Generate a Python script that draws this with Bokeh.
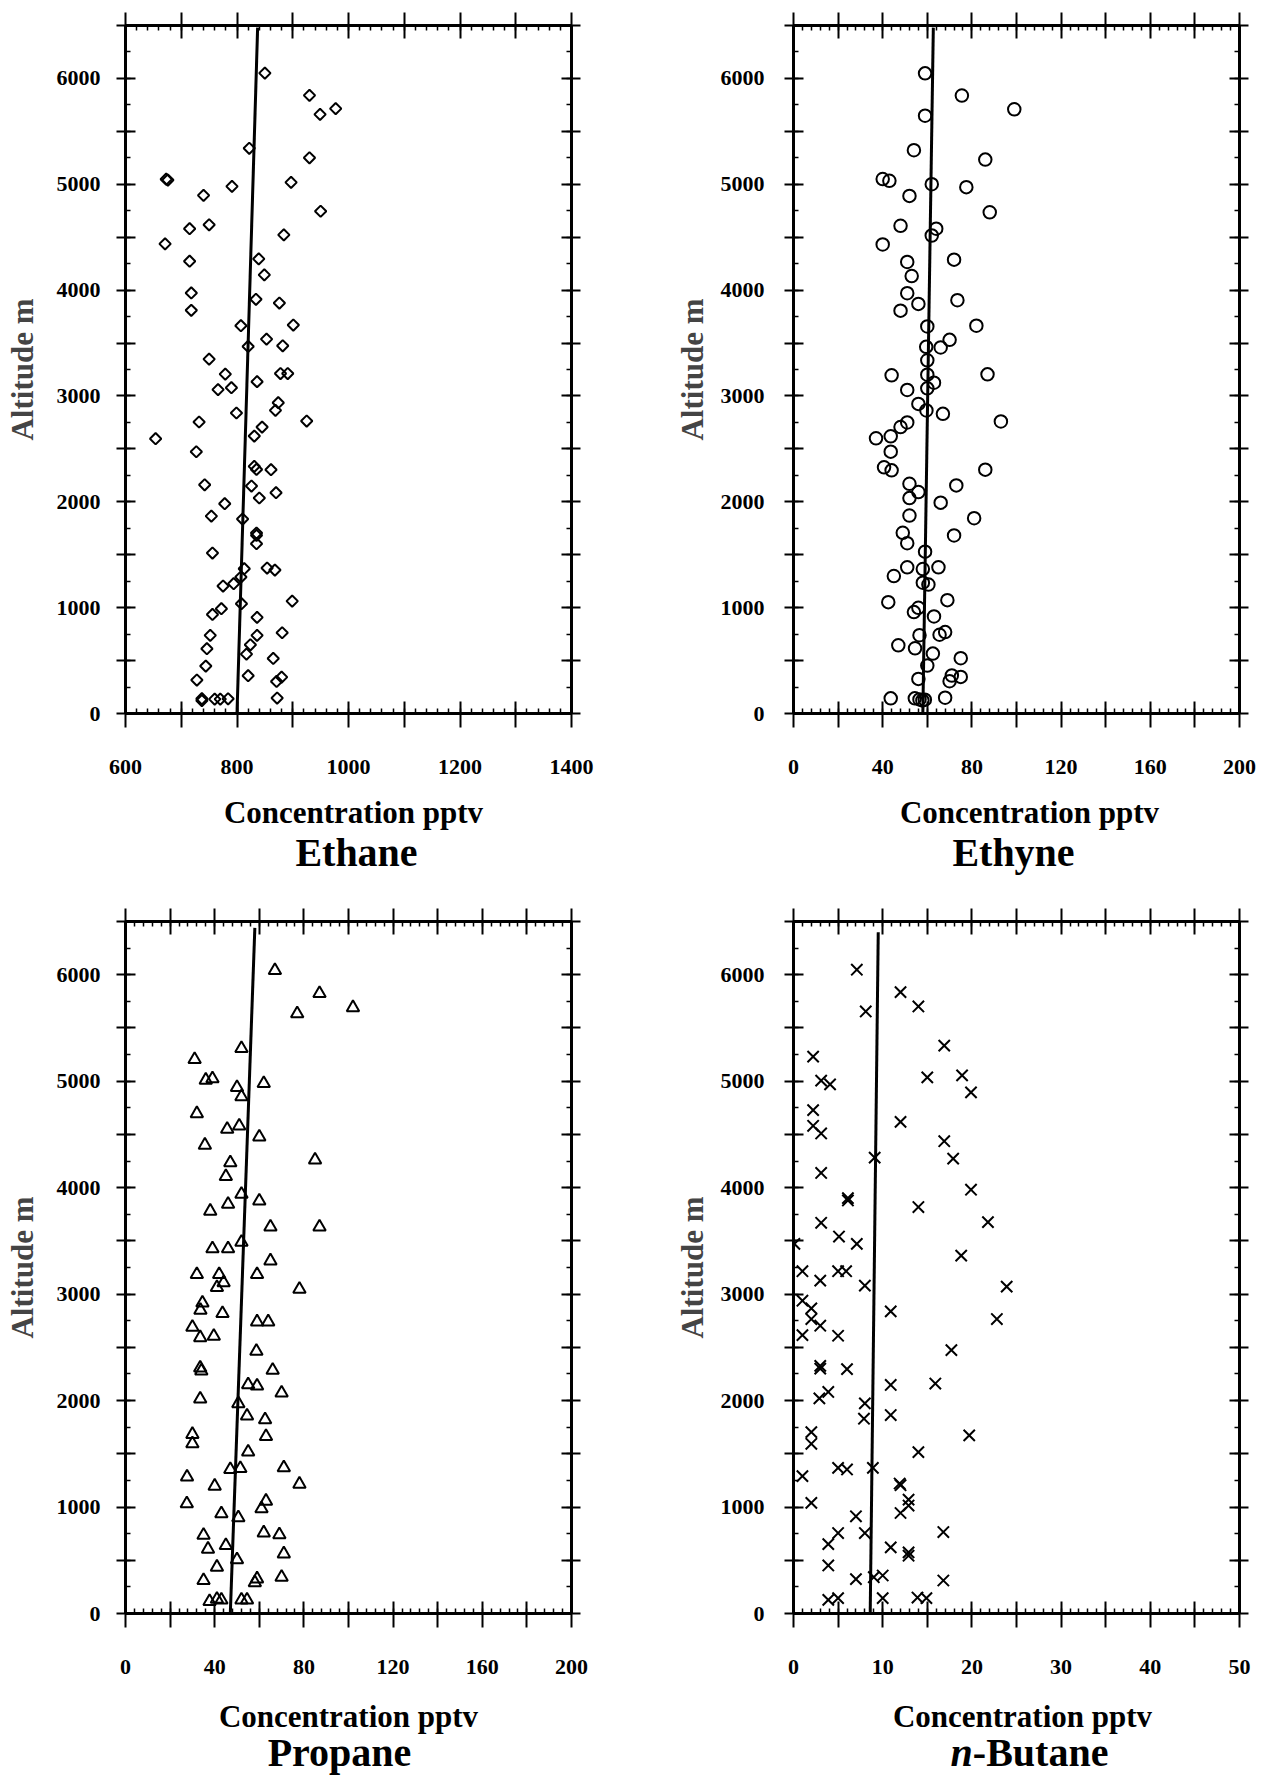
import numpy as np
from bokeh.plotting import figure
from bokeh.layouts import column, row
from bokeh.models import Range1d, LinearAxis, SingleIntervalTicker, CustomJSTickFormatter
from bokeh.core.properties import value
from bokeh.embed import file_html
from bokeh.resources import INLINE

# ---------------- data ----------------
ethane_x = [850, 930, 977, 949, 822, 930, 673, 676, 791, 897, 740, 950, 715, 750, 671, 884, 715, 839, 849,
            718, 834, 876, 718, 807, 901, 853, 820, 882, 750, 779, 878, 891, 836, 766, 790, 874, 869, 799,
            732, 925, 845, 654, 831, 727, 831, 835, 861, 742, 826, 870, 840, 778, 754, 810, 835, 835, 835,
            756, 813, 854, 868, 807, 794, 775, 899, 808, 772, 756, 836, 752, 836, 881, 746, 824, 817, 865,
            744, 820, 880, 871, 728, 737, 737, 760, 770, 784, 872]
ethane_y = [6050, 5840, 5715, 5660, 5340, 5250, 5048, 5040, 4980, 5018, 4895, 4745, 4580, 4617, 4437, 4522,
            4273, 4295, 4144, 3973, 3913, 3878, 3809, 3664, 3670, 3537, 3468, 3474, 3348, 3206, 3212, 3212,
            3135, 3060, 3078, 2936, 2864, 2839, 2754, 2763, 2706, 2596, 2621, 2473, 2335, 2306, 2303, 2161,
            2149, 2086, 2036, 1982, 1865, 1837, 1705, 1683, 1604, 1516, 1368, 1374, 1355, 1289, 1226, 1204,
            1062, 1037, 990, 936, 908, 738, 738, 763, 612, 649, 561, 520, 448, 357, 344, 303, 316, 140, 122,
            136, 136, 139, 146]
ethane_fit_x = [800, 837]
ethane_fit_y = [0, 6480]

ethyne_x = [59, 75.5, 99, 59, 54, 86, 40, 43, 62, 77.5, 52, 88, 48, 64, 62, 40, 72, 51, 53, 51, 73.5, 56, 48,
            60, 82, 70, 66, 59.5, 60, 44, 60, 87, 63, 60, 51, 56, 59.6, 67, 93, 51, 48, 37, 43.6, 43.6, 40.6,
            44, 86, 52, 73, 56, 52, 66, 52, 81, 49, 72, 51, 59, 51, 58, 65, 45, 58, 60.5, 42.5, 69, 56, 54,
            63, 56.5, 65.5, 68, 47, 54.5, 62.5, 75, 60, 56, 71, 70, 75, 43.6, 54.4, 56.5, 57.8, 58.9, 68]
ethyne_y = [6048, 5838, 5708, 5648, 5322, 5233, 5049, 5033, 5001, 4973, 4890, 4735, 4608, 4580, 4516, 4431,
            4288, 4266, 4133, 3971, 3905, 3870, 3806, 3657, 3664, 3530, 3458, 3464, 3337, 3195, 3201, 3204,
            3125, 3072, 3057, 2925, 2863, 2831, 2759, 2750, 2706, 2600, 2619, 2474, 2326, 2297, 2304, 2170,
            2155, 2092, 2035, 1992, 1870, 1845, 1707, 1682, 1609, 1529, 1381, 1365, 1381, 1299, 1236, 1218,
            1052, 1071, 999, 958, 917, 740, 744, 769, 644, 616, 566, 522, 453, 327, 359, 305, 346, 143, 143,
            133, 124, 130, 149]
ethyne_fit_x = [58, 62.7]
ethyne_fit_y = [0, 6480]

propane_x = [67, 87, 102, 77, 52, 31, 36, 39, 50, 62, 52, 32, 45.6, 51, 60, 35.6, 85, 47, 45, 52, 46, 60, 38,
             65, 87, 52, 39, 46, 65, 32, 42, 59, 44, 41, 78, 34.5, 33.6, 43.5, 59, 64, 30, 33.5, 39.6, 58.7,
             33.5, 34, 66, 55, 59, 70, 33.5, 50.6, 54.5, 62.6, 30, 30, 63, 55, 47, 51.5, 71, 27.6, 40, 78,
             27.5, 63, 61, 43, 50.6, 35, 62, 69, 37, 45, 71, 50, 41, 35, 59, 58, 70, 37.7, 41, 43, 52, 54.5]
propane_y = [6041, 5825, 5692, 5634, 5307, 5205, 5011, 5024, 4941, 4979, 4855, 4696, 4550, 4579, 4477, 4400,
             4260, 4235, 4105, 3939, 3844, 3876, 3780, 3631, 3631, 3488, 3427, 3427, 3313, 3185, 3185, 3185,
             3107, 3063, 3047, 2918, 2849, 2818, 2740, 2740, 2690, 2592, 2605, 2464, 2307, 2279, 2285, 2150,
             2138, 2072, 2016, 1972, 1856, 1821, 1683, 1595, 1664, 1517, 1354, 1363, 1370, 1282, 1197, 1216,
             1031, 1056, 984, 937, 900, 736, 758, 740, 605, 639, 561, 505, 436, 310, 326, 291, 341, 113, 135,
             128, 128, 128]
propane_fit_x = [47, 58]
propane_fit_y = [0, 6440]

butane_x = [7.1, 12, 14, 8.1, 16.9, 2.2, 3.1, 4.1, 15, 18.9, 19.9, 2.2, 2.2, 3.1, 12, 16.9, 17.9, 9.1, 3.1,
            19.9, 6.1, 6.1, 14, 21.8, 3.1, 5.1, 7.1, 0.1, 18.8, 1, 5, 5.9, 3, 8, 23.9, 1, 2, 2, 3, 10.9, 22.8,
            1, 5, 17.7, 3, 3, 6, 15.9, 10.9, 3.9, 2.9, 8, 7.9, 10.9, 2, 2, 19.7, 14, 5, 6, 8.9, 1, 11.9, 12,
            12.9, 12.9, 12, 2, 7, 5, 8, 16.8, 3.9, 10.9, 12.9, 12.9, 3.9, 7, 9, 10, 16.8, 3.9, 5, 10, 13.9,
            14.9]
butane_y = [6047, 5837, 5702, 5655, 5334, 5231, 5005, 4970, 5036, 5055, 4895, 4728, 4581, 4509, 4618, 4436,
            4273, 4282, 4138, 3981, 3902, 3880, 3818, 3676, 3670, 3541, 3472, 3472, 3362, 3215, 3215, 3215,
            3127, 3080, 3070, 2938, 2866, 2766, 2703, 2838, 2766, 2615, 2609, 2474, 2326, 2300, 2295, 2160,
            2147, 2081, 2021, 1974, 1830, 1864, 1704, 1594, 1673, 1516, 1368, 1353, 1368, 1290, 1221, 1205,
            1070, 1014, 944, 1039, 913, 756, 756, 765, 652, 621, 574, 543, 451, 323, 341, 357, 310, 128, 144,
            144, 150, 144]
butane_fit_x = [8.6, 9.5]
butane_fit_y = [0, 6400]

y_label = "Altitude m"
x_label = "Concentration pptv"
titles = ["Ethane", "Ethyne", "Propane", ("n", "-Butane")]

FONT = "Liberation Serif"
Y_MAX = 6500


def blank_fmt():
    return CustomJSTickFormatter(code="return ''")


def style(ax, ticker, tin, tout, min_in):
    ax.ticker = ticker
    ax.axis_line_width = 3
    ax.axis_line_color = "black"
    ax.major_tick_line_width = 2
    ax.minor_tick_line_width = 1.5
    ax.major_tick_in = tin
    ax.major_tick_out = tout
    ax.minor_tick_in = min_in
    ax.minor_tick_out = 0
    ax.major_label_text_font = FONT
    ax.major_label_text_font_style = "bold"
    ax.major_label_text_font_size = "22px"
    ax.major_label_text_color = "black"


def panel(xs, ys, fx, fy, marker, msize, angle, x0, x1, xint, width, height,
          bl, br, bt, bb, ytick_standoff, ylab_standoff):
    p = figure(width=width, height=height, x_range=Range1d(x0, x1), y_range=Range1d(0, Y_MAX),
               output_backend="svg", toolbar_location=None, tools="",
               min_border_left=bl, min_border_right=br, min_border_top=bt, min_border_bottom=bb)
    p.outline_line_color = None
    p.grid.visible = False
    p.background_fill_color = "white"
    p.border_fill_color = "white"

    xt = lambda: SingleIntervalTicker(interval=xint, num_minor_ticks=5)
    yt = lambda: SingleIntervalTicker(interval=500, num_minor_ticks=2)

    xa = p.xaxis[0]
    style(xa, xt(), 12, 14, 5)
    n = int(round((x1 - x0) / xint))
    xa.major_label_overrides = {x0 + k * xint: "" for k in range(1, n + 1, 2)}
    xa.major_label_standoff = 32

    ya = p.yaxis[0]
    style(ya, yt(), 10, 9, 5)
    ya.major_label_overrides = {v: "" for v in range(500, Y_MAX + 1, 1000)}
    ya.major_label_standoff = ytick_standoff
    ya.axis_label = y_label
    ya.axis_label_text_font = FONT
    ya.axis_label_text_font_style = "bold"
    ya.axis_label_text_font_size = "31px"
    ya.axis_label_standoff = ylab_standoff

    top = LinearAxis(formatter=blank_fmt())
    style(top, xt(), 13, 13, 5)
    p.add_layout(top, "above")
    right = LinearAxis(formatter=blank_fmt())
    style(right, yt(), 10, 9, 5)
    p.add_layout(right, "right")

    p.line(fx, fy, line_width=3, line_color="black")
    p.scatter(xs, ys, marker=marker, size=msize, angle=angle, fill_color=None,
              line_color="black", line_width=2)
    return p


def caption(width, height, label_cx, label_y, title, title_cx, title_y):
    c = figure(width=width, height=height, x_range=Range1d(0, width), y_range=Range1d(height, 0),
               output_backend="svg", toolbar_location=None, tools="", min_border=0,
               x_axis_location=None, y_axis_location=None)
    c.outline_line_color = None
    c.grid.visible = False
    c.background_fill_color = "white"
    c.border_fill_color = "white"
    c.text(x=[label_cx], y=[label_y], text=[x_label], text_font=value(FONT),
           text_font_size=value("31px"), text_font_style="bold", text_align="center",
           text_baseline="alphabetic", text_color="black")
    if isinstance(title, tuple):
        ital, rest = title
        w_i = 0.556 * 40
        w_r = 3.389 * 40
        split = title_cx - (w_i + w_r) / 2 + w_i
        c.text(x=[split], y=[title_y], text=[ital], text_font=value(FONT),
               text_font_size=value("40px"), text_font_style="bold italic", text_align="right",
               text_baseline="alphabetic", text_color="black")
        c.text(x=[split], y=[title_y], text=[rest], text_font=value(FONT),
               text_font_size=value("40px"), text_font_style="bold", text_align="left",
               text_baseline="alphabetic", text_color="black")
    else:
        c.text(x=[title_cx], y=[title_y], text=[title], text_font=value(FONT),
               text_font_size=value("40px"), text_font_style="bold", text_align="center",
               text_baseline="alphabetic", text_color="black")
    return c


WL, WR = 668, 591
p1 = panel(ethane_x, ethane_y, ethane_fit_x, ethane_fit_y, "square", 8, np.pi / 4,
           600, 1400, 100, WL, 789, 125, 97, 25, 76, 16, 14)
p2 = panel(ethyne_x, ethyne_y, ethyne_fit_x, ethyne_fit_y, "circle", 12.5, 0,
           0, 200, 20, WR, 789, 125, 20, 25, 76, 20, 8)
p3 = panel(propane_x, propane_y, propane_fit_x, propane_fit_y, "triangle", 12.5, 0,
           0, 200, 20, WL, 784, 125, 97, 16, 76, 16, 14)
p4 = panel(butane_x, butane_y, butane_fit_x, butane_fit_y, "x", 16, 0,
           0, 50, 5, WR, 784, 125, 20, 16, 76, 20, 8)

c1 = caption(WL, 116, 353, 23, titles[0], 356, 63)
c2 = caption(WR, 116, 361, 23, titles[1], 345, 63)
c3 = caption(WL, 86, 348, 27, titles[2], 339, 63)
c4 = caption(WR, 86, 354, 27, titles[3], 361, 63)

layout = column(row(p1, p2), row(c1, c2), row(p3, p4), row(c3, c4))
open("out.html", "w").write(file_html(layout, INLINE))
